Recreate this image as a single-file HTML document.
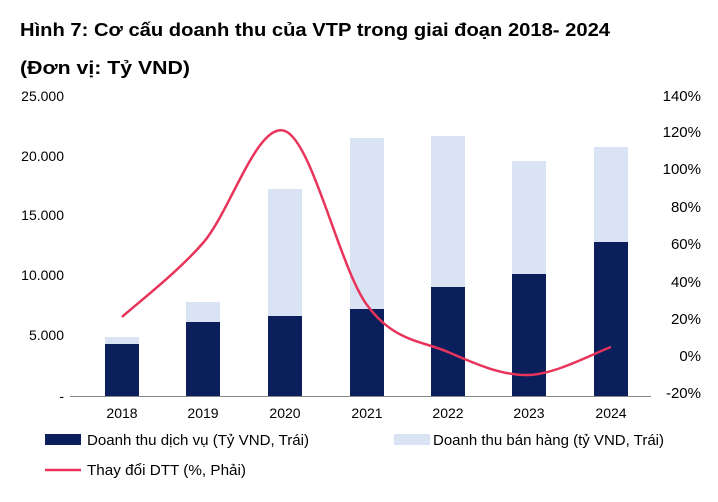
<!DOCTYPE html>
<html><head><meta charset="utf-8"><style>
body{margin:0;background:#fff;width:718px;height:497px;overflow:hidden}
svg{font-family:"Liberation Sans",Arial,sans-serif}
</style></head><body>
<svg width="718" height="497" viewBox="0 0 718 497">
<text x="20" y="36" font-size="18" font-weight="bold" fill="#000" textLength="590" lengthAdjust="spacingAndGlyphs">Hình 7: Cơ cấu doanh thu của VTP trong giai đoạn 2018- 2024</text>
<text x="20" y="74" font-size="18" font-weight="bold" fill="#000" textLength="170" lengthAdjust="spacingAndGlyphs">(Đơn vị: Tỷ VND)</text>
<g font-size="14" fill="#000" text-anchor="end">
<text x="64" y="101">25.000</text>
<text x="64" y="161">20.000</text>
<text x="64" y="220">15.000</text>
<text x="64" y="280">10.000</text>
<text x="64" y="340">5.000</text>
<text x="64" y="401">-</text>
</g>
<g font-size="15" fill="#000" text-anchor="end">
<text x="701" y="101">140%</text>
<text x="701" y="137">120%</text>
<text x="701" y="174">100%</text>
<text x="701" y="212">80%</text>
<text x="701" y="249">60%</text>
<text x="701" y="287">40%</text>
<text x="701" y="324">20%</text>
<text x="701" y="361">0%</text>
<text x="701" y="398">-20%</text>
</g>
<g fill="#dae3f3">
<rect x="105" y="337" width="34" height="59"/>
<rect x="186" y="302" width="34" height="94"/>
<rect x="268" y="189" width="34" height="207"/>
<rect x="350" y="138" width="34" height="258"/>
<rect x="431" y="136" width="34" height="260"/>
<rect x="512" y="161" width="34" height="235"/>
<rect x="594" y="147" width="34" height="249"/>
</g>
<g fill="#0a1f5c">
<rect x="105" y="344" width="34" height="52"/>
<rect x="186" y="322" width="34" height="74"/>
<rect x="268" y="316" width="34" height="80"/>
<rect x="350" y="309" width="34" height="87"/>
<rect x="431" y="287" width="34" height="109"/>
<rect x="512" y="274" width="34" height="122"/>
<rect x="594" y="242" width="34" height="154"/>
</g>
<line x1="70" y1="396.5" x2="651" y2="396.5" stroke="#888" stroke-width="1"/>
<path d="M122,317 C135.5,304.7 175.8,274 203,243 C230.2,212 257.7,120.7 285,131 C312.3,141.3 339.8,268.2 367,305 C394.2,341.8 421,340.3 448,352 C475,363.7 501.8,375.8 529,375 C556.2,374.2 597.3,351.7 611,347" fill="none" stroke="#e8345a" stroke-width="2.5"/>
<g font-size="14" fill="#000" text-anchor="middle">
<text x="122" y="418">2018</text>
<text x="203" y="418">2019</text>
<text x="285" y="418">2020</text>
<text x="367" y="418">2021</text>
<text x="448" y="418">2022</text>
<text x="529" y="418">2023</text>
<text x="611" y="418">2024</text>
</g>
<rect x="45" y="434" width="36" height="11" fill="#0a1f5c"/>
<text x="87" y="445" font-size="15" textLength="222" lengthAdjust="spacingAndGlyphs">Doanh thu dịch vụ (Tỷ VND, Trái)</text>
<rect x="394" y="434" width="36" height="11" fill="#dae3f3"/>
<text x="433" y="445" font-size="15" textLength="231" lengthAdjust="spacingAndGlyphs">Doanh thu bán hàng (tỷ VND, Trái)</text>
<line x1="45" y1="470" x2="81" y2="470" stroke="#e8345a" stroke-width="2.5"/>
<text x="87" y="475" font-size="15" textLength="159" lengthAdjust="spacingAndGlyphs">Thay đổi DTT (%, Phải)</text>
</svg>
</body></html>
